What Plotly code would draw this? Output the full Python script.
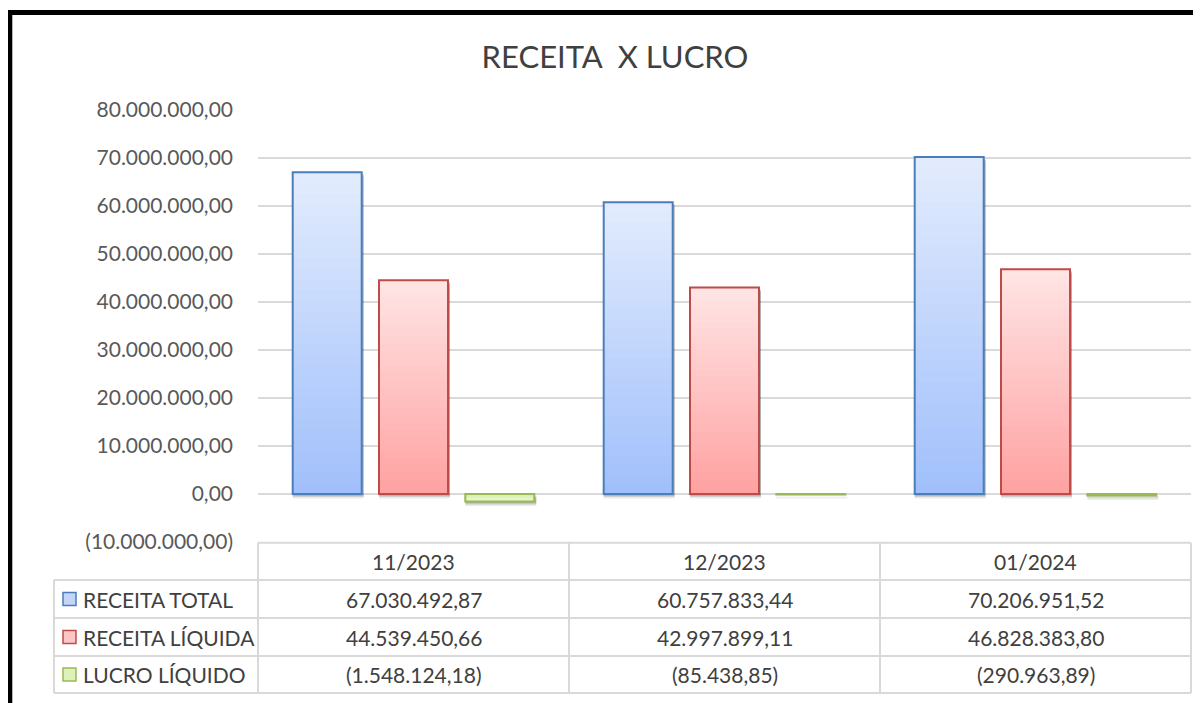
import plotly.graph_objects as go

# ---------------- data ----------------
categories = ["11/2023", "12/2023", "01/2024"]
series_names = ["RECEITA TOTAL", "RECEITA LÍQUIDA", "LUCRO LÍQUIDO"]
receita_total = [67030492.87, 60757833.44, 70206951.52]
receita_liquida = [44539450.66, 42997899.11, 46828383.80]
lucro_liquido = [-1548124.18, -85438.85, -290963.89]
y_ticks = [-10e6, 0, 10e6, 20e6, 30e6, 40e6, 50e6, 60e6, 70e6, 80e6]
title_text = "RECEITA\u00a0 X LUCRO"

# ---------------- style ----------------
PAGE_W, PAGE_H = 1201, 703
BODY = 8  # default body margin of the html page
W, H = PAGE_W - BODY, PAGE_H - BODY
PL, PR, PT, PB = 258, 1191, 110, 542  # plot area in page pixels
FONT = "Lato, 'Open Sans', sans-serif"
TXT = "#404040"
TICK = "#595959"
GRID = "#D9D9D9"
FS = 21

styles = [
    dict(top="#E3ECFD", bottom="#A0BFFB", line="#4A7EBB", key="#C3D6F8"),
    dict(top="#FFE5E5", bottom="#FFA1A1", line="#BE4B48", key="#FCC6C6"),
    dict(top="#ECF8D8", bottom="#D6EFA8", line="#98B954", key="#DDF1B9"),
]


def xp(px):
    return (px - PL) / (PR - PL)


def yp(py):
    return (PB - py) / (PB - PT)


def br(v):
    s = f"{abs(v):,.2f}".replace(",", "X").replace(".", ",").replace("X", ".")
    return f"({s})" if v < 0 else s


def hx(c):
    c = c.lstrip("#")
    return [int(c[i:i + 2], 16) for i in (0, 2, 4)]


def lerp(c1, c2, t):
    a, b = hx(c1), hx(c2)
    return "rgb(%d,%d,%d)" % tuple(round(a[i] + (b[i] - a[i]) * t) for i in range(3))


all_series = [receita_total, receita_liquida, lucro_liquido]
cat_px = (PR - PL) / len(categories)
slot = 86.3 / cat_px
bar_w = 69 / cat_px
centers = [-slot, 0, slot]
units_per_px = (y_ticks[-1] - y_ticks[0]) / (PB - PT)

fig = go.Figure()

# soft shadows under the bars
for si, vals in enumerate(all_series):
    off = centers[si] - bar_w / 2
    for s_px, alpha in [(4.5, 0.08), (3.0, 0.12), (1.8, 0.14)]:
        s = s_px * units_per_px
        fig.add_trace(go.Bar(
            x=categories, y=vals, base=[-s] * len(vals),
            width=bar_w + 2 / cat_px, offset=off,
            marker=dict(color=f"rgba(0,0,0,{alpha})", line=dict(width=0)),
            showlegend=False, hoverinfo="skip",
        ))

N = 30
for si, (name, vals, st) in enumerate(zip(series_names, all_series, styles)):
    off = centers[si] - bar_w / 2
    # gradient layers (tallest first, lighter on top)
    for k in range(N, 0, -1):
        t = (k - 0.5) / N
        fig.add_trace(go.Bar(
            x=categories, y=[v * k / N for v in vals],
            width=bar_w, offset=off,
            marker=dict(color=lerp(st["bottom"], st["top"], t), line=dict(width=0)),
            showlegend=False, hoverinfo="skip",
        ))
    # outline
    fig.add_trace(go.Bar(
        x=categories, y=vals, name=name,
        width=bar_w, offset=off,
        marker=dict(color="rgba(0,0,0,0)", line=dict(color=st["line"], width=2)),
        showlegend=False,
    ))

shapes = []
annotations = []

# data table lines
row_lines = [542.7, 580, 618, 656, 693]
col_lines = [PL, PL + cat_px, PL + 2 * cat_px, PR]
line_style = dict(color=GRID, width=2)
shapes.append(dict(type="line", xref="paper", yref="paper",
                   x0=xp(PL), x1=xp(PR), y0=yp(row_lines[0]), y1=yp(row_lines[0]), line=line_style))
for ry in row_lines[1:]:
    shapes.append(dict(type="line", xref="paper", yref="paper",
                       x0=xp(54), x1=xp(PR), y0=yp(ry), y1=yp(ry), line=line_style))
shapes.append(dict(type="line", xref="paper", yref="paper",
                   x0=xp(54), x1=xp(54), y0=yp(row_lines[1]), y1=yp(row_lines[-1]), line=line_style))
for cx in col_lines:
    shapes.append(dict(type="line", xref="paper", yref="paper",
                       x0=xp(cx), x1=xp(cx), y0=yp(row_lines[0]), y1=yp(row_lines[-1]), line=line_style))

# header row
hdr_y = (row_lines[0] + row_lines[1]) / 2
for c in categories:
    annotations.append(dict(x=c, xref="x", y=yp(hdr_y), yref="paper", text=c,
                            showarrow=False, xanchor="center", yanchor="middle",
                            font=dict(family=FONT, size=FS, color=TXT)))

# rows
for ri, (name, vals, st) in enumerate(zip(series_names, all_series, styles)):
    cy = (row_lines[ri + 1] + row_lines[ri + 2]) / 2
    shapes.append(dict(type="rect", xref="paper", yref="paper",
                       x0=xp(63), x1=xp(76), y0=yp(cy - 6.5), y1=yp(cy + 6.5),
                       fillcolor=st["key"], line=dict(color=st["line"], width=1.5)))
    annotations.append(dict(x=xp(81), xref="paper", y=yp(cy), yref="paper", text=name,
                            showarrow=False, xanchor="left", yanchor="middle",
                            font=dict(family=FONT, size=FS, color=TXT)))
    for c, v in zip(categories, vals):
        annotations.append(dict(x=c, xref="x", y=yp(cy), yref="paper", text=br(v),
                                showarrow=False, xanchor="center", yanchor="middle",
                                font=dict(family=FONT, size=FS, color=TXT)))

# black frame (top and left)
shapes.append(dict(type="line", xref="paper", yref="paper",
                   x0=xp(7), x1=xp(PAGE_W + 20), y0=yp(12.5), y1=yp(12.5),
                   line=dict(color="black", width=5)))
shapes.append(dict(type="line", xref="paper", yref="paper",
                   x0=xp(9.8), x1=xp(9.8), y0=yp(10), y1=yp(PAGE_H + 20),
                   line=dict(color="black", width=5)))

fig.update_layout(
    width=W, height=H,
    margin=dict(l=PL - BODY, r=W - (PR - BODY), t=PT - BODY, b=H - (PB - BODY), pad=0),
    paper_bgcolor="white", plot_bgcolor="white",
    barmode="overlay",
    title=dict(text=title_text, x=(615 - BODY) / W, xref="container", xanchor="center",
               y=1 - (57 - BODY) / H, yref="container", yanchor="middle",
               font=dict(family=FONT, size=31, color=TXT)),
    xaxis=dict(type="category", showticklabels=False, showgrid=False,
               zeroline=False, showline=False, ticks="", range=[-0.5, 2.5]),
    yaxis=dict(range=[y_ticks[0], y_ticks[-1]], tickvals=y_ticks, ticktext=[br(v) for v in y_ticks],
               showgrid=True, gridcolor=GRID, gridwidth=2, zeroline=False,
               showline=False, ticks="", ticklabelstandoff=24,
               tickfont=dict(family=FONT, size=FS, color=TICK)),
    shapes=shapes,
    annotations=annotations,
    showlegend=False,
)

fig.write_html("out.html")
